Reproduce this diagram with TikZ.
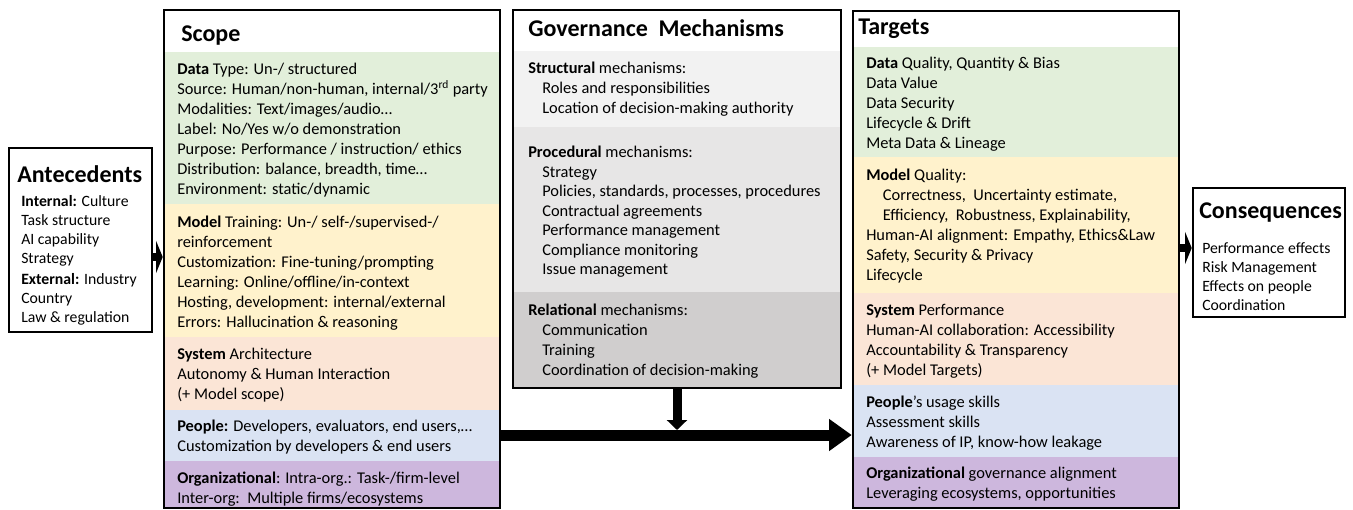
\documentclass[tikz,border=0pt]{standalone}
\usepackage{fontspec}
\setmainfont{Carlito}
\usepackage{xcolor}
\usetikzlibrary{arrows.meta,positioning,fit}

\definecolor{datagreen}{RGB}{226,239,218}
\definecolor{modelyellow}{RGB}{255,242,204}
\definecolor{syssalmon}{RGB}{251,229,214}
\definecolor{peopleblue}{RGB}{218,227,243}
\definecolor{orgpurple}{RGB}{205,183,221}
\definecolor{structgray}{RGB}{242,242,242}
\definecolor{procgray}{RGB}{231,230,230}
\definecolor{relgray}{RGB}{208,206,206}

\tikzset{
  frame/.style={draw=black, line width=1.9pt, inner sep=0pt},
  title/.style={inner sep=0pt, anchor=base west, font=\fontsize{18}{20}\selectfont\bfseries},
  body/.style={inner sep=0pt, anchor=north west, align=left, font=\fontsize{12.3}{15}\selectfont},
  side/.style={inner sep=0pt, anchor=north west, align=left, font=\fontsize{11.8}{14.25}\selectfont},
  flow/.style={line width=8.25pt, -{Triangle[length=17pt, width=23pt]}},
  drop/.style={line width=6.75pt, -{Triangle[length=7.5pt, width=15pt]}},
  link/.style={line width=6pt, -{Triangle[length=5pt, width=24pt]}}
}

\begin{document}
\begin{tikzpicture}[x=0.75pt, y=-0.75pt]
    \useasboundingbox (0,0) rectangle (1353,510);

    % scope bands
    \fill[datagreen]   (164,52)  rectangle (500,204);
    \fill[modelyellow] (164,204) rectangle (500,337);
    \fill[syssalmon]   (164,337) rectangle (500,410);
    \fill[peopleblue]  (164,410) rectangle (500,461);
    \fill[orgpurple]   (164,461) rectangle (500,508);
    % governance bands
    \fill[structgray]  (513,51)  rectangle (841,127);
    \fill[procgray]    (513,127) rectangle (841,292);
    \fill[relgray]     (513,292) rectangle (841,388);
    % target bands
    \fill[datagreen]   (853,47)  rectangle (1179,157);
    \fill[modelyellow] (853,157) rectangle (1179,293);
    \fill[syssalmon]   (853,293) rectangle (1179,385);
    \fill[peopleblue]  (853,385) rectangle (1179,457);
    \fill[orgpurple]   (853,457) rectangle (1179,508);

    \node[frame, fit={(9,148) (152,332)}] (ante) {};
    \node[frame, fit={(164,10) (500,508)}] (scope) {};
    \node[frame, fit={(513,10) (841,388)}] (gov) {};
    \node[frame, fit={(853,11) (1179,508)}] (targ) {};
    \node[frame, fit={(1193,188) (1345,317)}] (cons) {};

    \node[title] (anteT) at (17,182) {Antecedents};
    \node[side] (anteText) at (21,193) {\strut\textbf{Internal:} Culture\\ Task structure\\ AI capability\\ Strategy\\[1.5pt]
        \textbf{External:} Industry\\ Country\\ Law \& regulation};

    \node[title] (scopeT) at (181,42) {Scope};
    \node[body] (scopeData) at (177,60) {\strut\textbf{Data} Type: Un-/ structured\\
        Source: Human/non-human, internal/3\textsuperscript{rd} party\\
        Modalities: Text/images/audio\dots\\
        Label: No/Yes w/o demonstration\\
        Purpose: Performance / instruction/ ethics\\
        Distribution: balance, breadth, time\dots\\
        Environment: static/dynamic};
    \node[body] (scopeModel) at (177,213) {\strut\textbf{Model} Training: Un-/ self-/supervised-/\\
        reinforcement\\
        Customization: Fine-tuning/prompting\\
        Learning: Online/offline/in-context\\
        Hosting, development: internal/external\\
        Errors: Hallucination \& reasoning};
    \node[body] (scopeSys) at (177,345) {\strut\textbf{System} Architecture\\ Autonomy \& Human Interaction\\ (+ Model scope)};
    \node[body] (scopePeople) at (177,417) {\strut\textbf{People:} Developers, evaluators, end users,\dots\\ Customization by developers \& end users};
    \node[body] (scopeOrg) at (177,469) {\strut\textbf{Organizational}: Intra-org.: Task-/firm-level\\ Inter-org:\ \ Multiple firms/ecosystems};

    \node[title] (govT) at (528,37) {Governance\ \ Mechanisms};
    \node[body] (govStruct) at (528,59) {\strut\textbf{Structural} mechanisms:\\
        \hspace*{10.5pt}Roles and responsibilities\\
        \hspace*{10.5pt}Location of decision-making authority};
    \node[body, font=\fontsize{12.3}{14.6}\selectfont] (govProc) at (528,144) {\strut\textbf{Procedural} mechanisms:\\
        \hspace*{10.5pt}Strategy\\
        \hspace*{10.5pt}Policies, standards, processes, procedures\\
        \hspace*{10.5pt}Contractual agreements\\
        \hspace*{10.5pt}Performance management\\
        \hspace*{10.5pt}Compliance monitoring\\
        \hspace*{10.5pt}Issue management};
    \node[body] (govRel) at (528,301) {\strut\textbf{Relational} mechanisms:\\
        \hspace*{10.5pt}Communication\\
        \hspace*{10.5pt}Training\\
        \hspace*{10.5pt}Coordination of decision-making};

    \node[title] (targT) at (858,35) {Targets};
    \node[body] (targData) at (866,54) {\strut\textbf{Data} Quality, Quantity \& Bias\\ Data Value\\ Data Security\\ Lifecycle \& Drift\\ Meta Data \& Lineage};
    \node[body] (targModel) at (866,166) {\strut\textbf{Model} Quality:\\
        \hspace*{12.5pt}Correctness,\ \ Uncertainty estimate,\\
        \hspace*{12.5pt}Efficiency,\ \ Robustness, Explainability,\\
        Human-AI alignment: Empathy, Ethics\&Law\\
        Safety, Security \& Privacy\\
        Lifecycle};
    \node[body] (targSys) at (866,301) {\strut\textbf{System} Performance\\ Human-AI collaboration: Accessibility\\ Accountability \& Transparency\\ (+ Model Targets)};
    \node[body] (targPeople) at (866,393) {\strut\textbf{People}'s usage skills\\ Assessment skills\\ Awareness of IP, know-how leakage};
    \node[body] (targOrg) at (866,464) {\strut\textbf{Organizational} governance alignment\\ Leveraging ecosystems, opportunities};

    \node[title] (consT) at (1199,218) {Consequences};
    \node[side] (consText) at (1202,240) {\strut Performance effects\\ Risk Management\\ Effects on people\\ Coordination};

    \coordinate (inY) at (0,257);
    \coordinate (outY) at (0,248);
    \coordinate (mainY) at (0,435);
    \coordinate (dropY) at (0,430);
    \draw[link] (ante.east |- inY) -- (scope.west |- inY);
    \draw[flow] (scope.east |- mainY) -- (targ.west |- mainY);
    \draw[drop] (gov.south) -- (gov.south |- dropY);
    \draw[link] (targ.east |- outY) -- (cons.west |- outY);
\end{tikzpicture}
\end{document}
